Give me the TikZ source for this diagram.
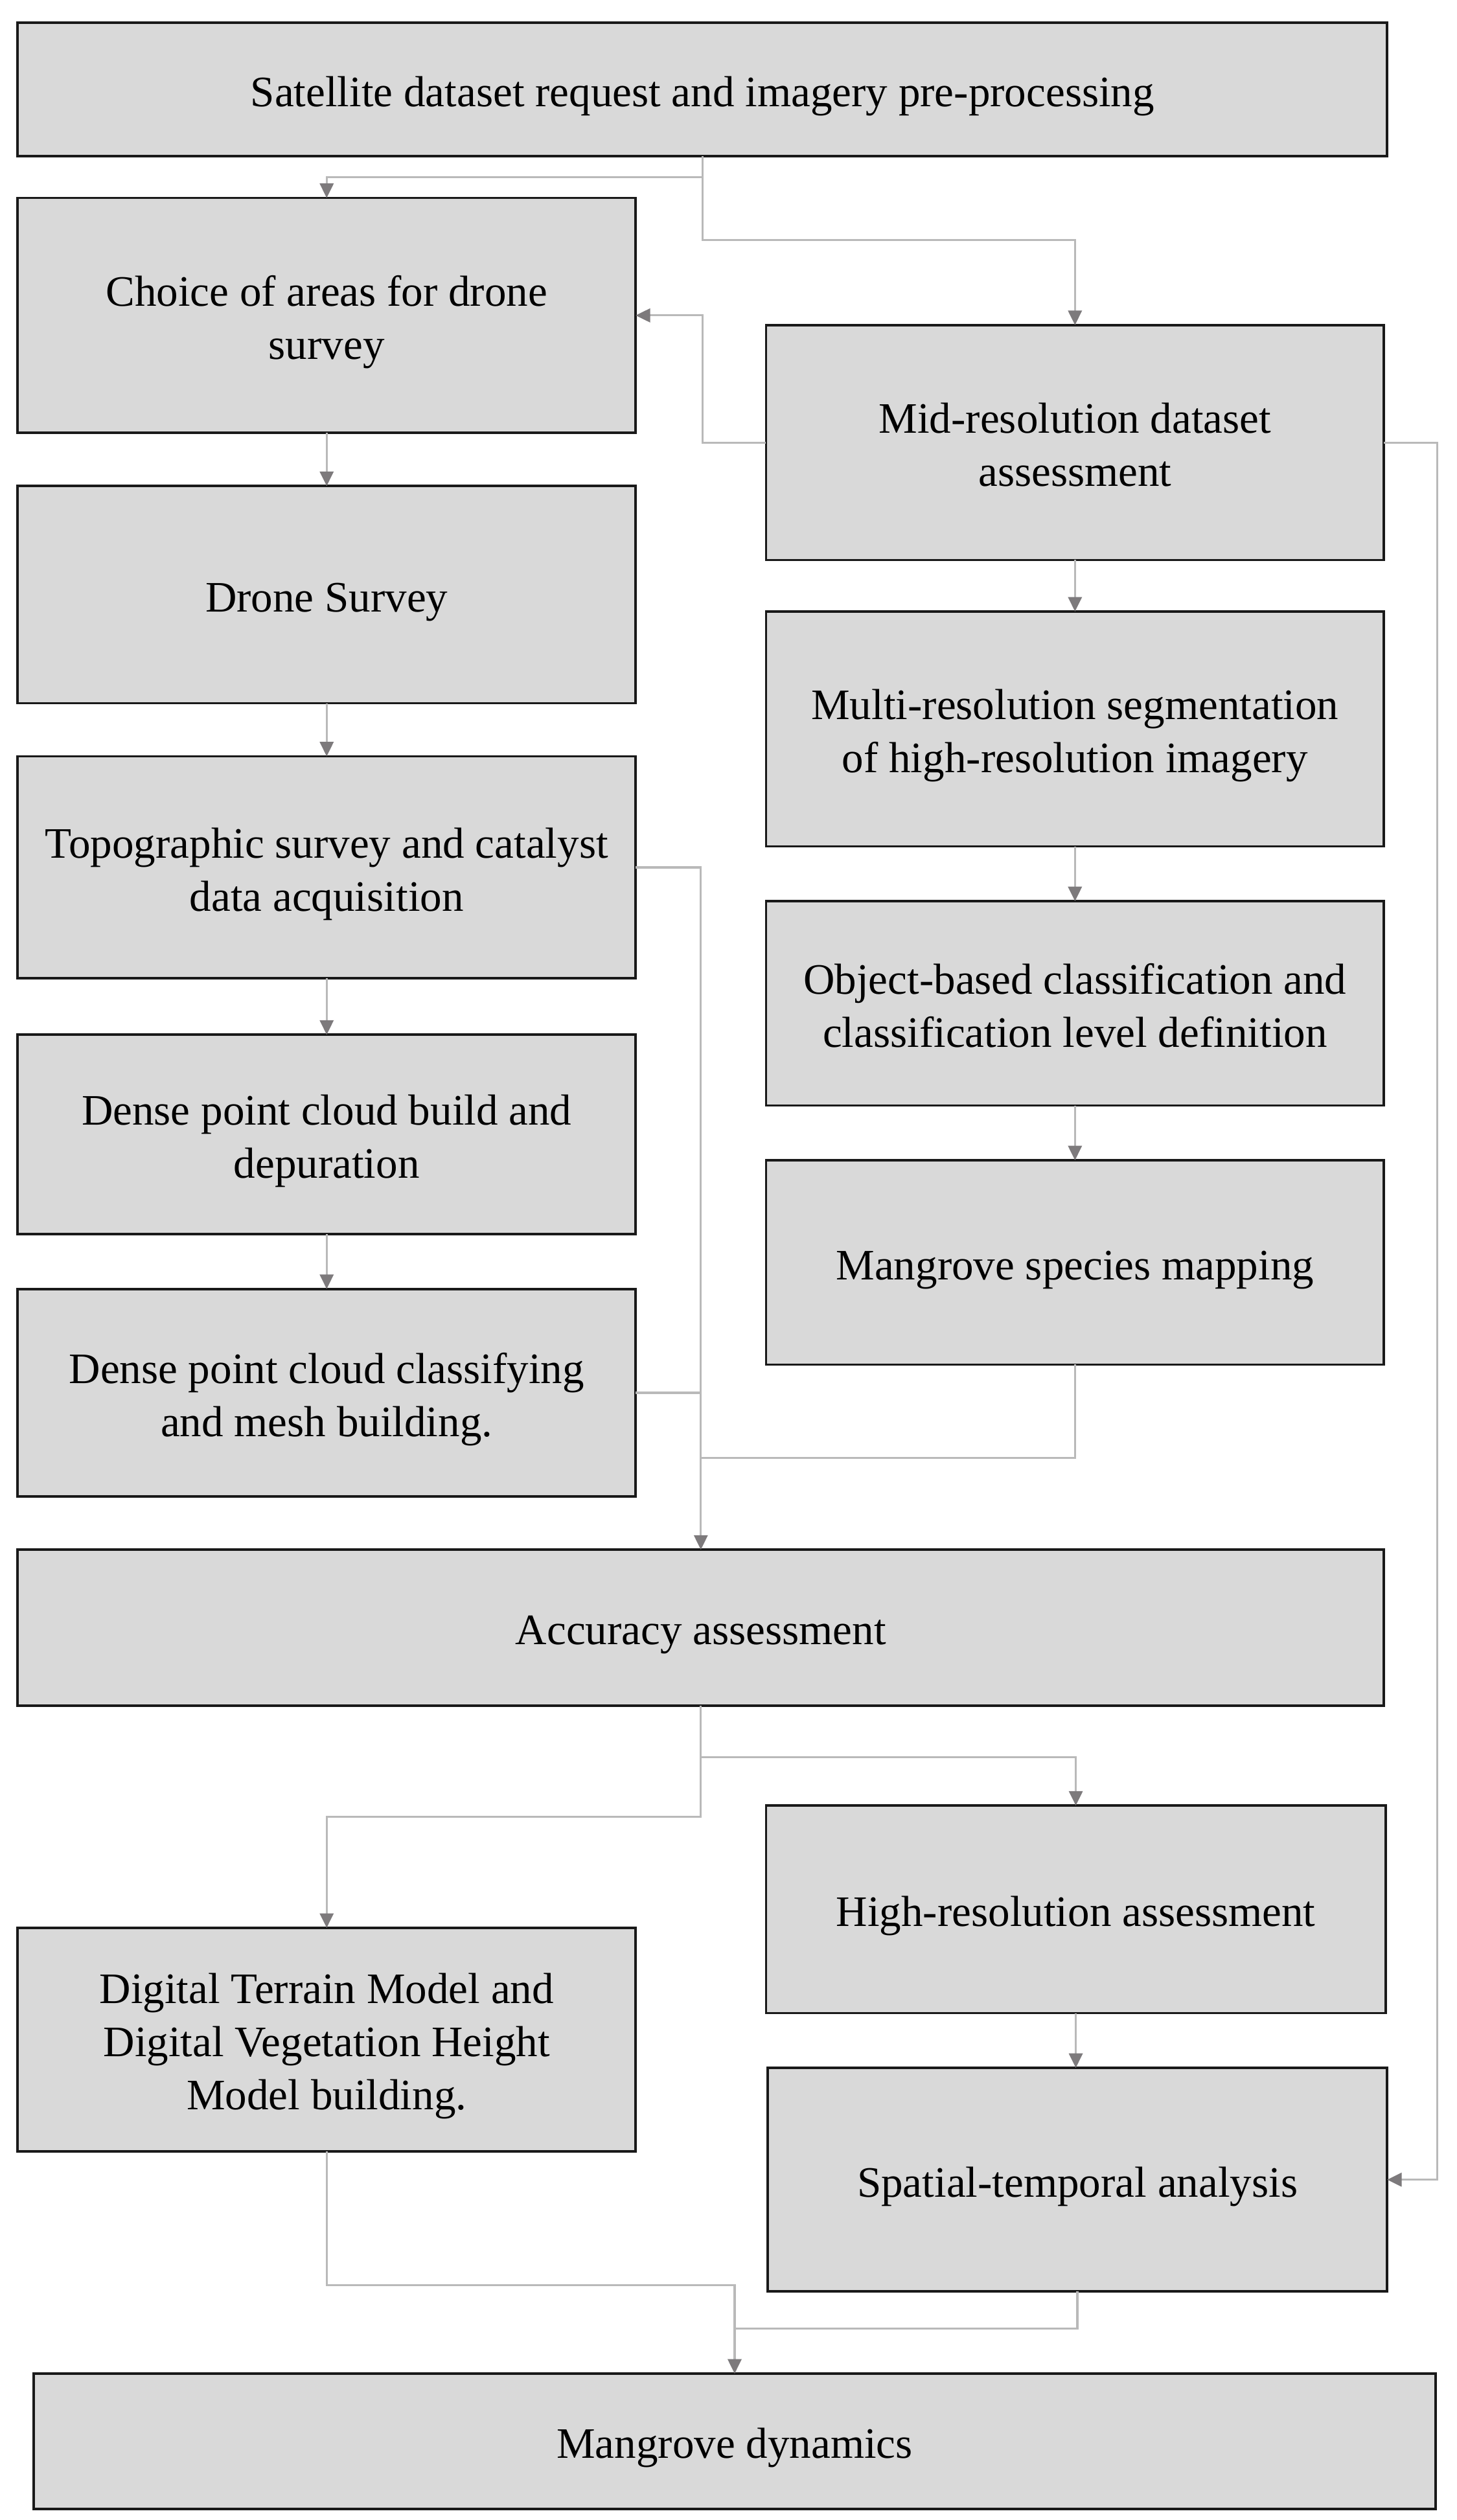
\documentclass[tikz,border=0pt]{standalone}
\usepackage{fontspec}
\setmainfont{Liberation Serif}
\usetikzlibrary{positioning, arrows.meta}

\definecolor{boxfill}{RGB}{217,217,217}
\definecolor{linegray}{RGB}{185,185,185}
\definecolor{tipgray}{RGB}{125,122,124}

% text block of a box, sitting a little low as in the figure
\newcommand{\stagetext}[1]{\raisebox{0pt}[\dimexpr\height+8pt\relax][\depth]{\begin{tabular}{@{}c@{}}#1\end{tabular}}}

\tikzset{
    stage/.style={draw=black!90, line width=1.5pt, fill=boxfill, inner sep=0pt, outer sep=0pt,
        font=\fontsize{27}{33}\selectfont},
    link/.style={draw=linegray, line width=1.3pt, -{Triangle[length=9pt,width=8.5pt,color=tipgray]}},
    joint/.style={draw=linegray, line width=1.3pt}
}

\begin{document}
\begin{tikzpicture}[x=1pt, y=-1pt]
    \useasboundingbox (0,0) rectangle (905,1566);
    % boxes
    \node[stage, minimum width=851, minimum height=83] (Sat) at (436.5,55.5) {\stagetext{Satellite dataset request and imagery pre-processing}};
    \node[stage, minimum width=384, minimum height=146] (Choice) at (203,196) {\stagetext{Choice of areas for drone\\survey}};
    \node[stage, minimum width=384, minimum height=146] (MidRes) at (668,275) {\stagetext{Mid-resolution dataset\\assessment}};
    \node[stage, minimum width=384, minimum height=135] (Drone) at (203,369.5) {\stagetext{Drone Survey}};
    \node[stage, minimum width=384, minimum height=146] (MultiRes) at (668,453) {\stagetext{Multi-resolution segmentation\\of high-resolution imagery}};
    \node[stage, minimum width=384, minimum height=138] (Topo) at (203,539) {\stagetext{Topographic survey and catalyst\\data acquisition}};
    \node[stage, minimum width=384, minimum height=127] (ObjClass) at (668,623.5) {\stagetext{Object-based classification and\\classification level definition}};
    \node[stage, minimum width=384, minimum height=124] (DenseBuild) at (203,705) {\stagetext{Dense point cloud build and\\depuration}};
    \node[stage, minimum width=384, minimum height=127] (Species) at (668,784.5) {\stagetext{Mangrove species mapping}};
    \node[stage, minimum width=384, minimum height=129] (DenseClass) at (203,865.5) {\stagetext{Dense point cloud classifying\\and mesh building.}};
    \node[stage, minimum width=849, minimum height=97] (Accuracy) at (435.5,1011.5) {\stagetext{Accuracy assessment}};
    \node[stage, minimum width=385, minimum height=129] (HighRes) at (668.5,1186.5) {\stagetext{High-resolution assessment}};
    \node[stage, minimum width=384, minimum height=139] (DTM) at (203,1267.5) {\stagetext{Digital Terrain Model and\\Digital Vegetation Height\\Model building.}};
    \node[stage, minimum width=385, minimum height=139] (Spatial) at (669.5,1354.5) {\stagetext{Spatial-temporal analysis}};
    \node[stage, minimum width=871, minimum height=84] (Dynamics) at (456.5,1517) {\stagetext{Mangrove dynamics}};

    % bend levels
    \coordinate (s1) at (0,110);
    \coordinate (s2) at (0,149);
    \coordinate (rr) at (893,0);
    \coordinate (m1) at (0,906);
    \coordinate (a1) at (0,1092);
    \coordinate (a2) at (0,1129);
    \coordinate (d1) at (0,1420);
    \coordinate (d2) at (0,1447);

    % connectors
    \draw[link] (Sat.south) |- (Choice.north |- s1) -- (Choice.north);
    \draw[link] (Sat.south) |- (MidRes.north |- s2) -- (MidRes.north);
    \draw[link] (MidRes.west) -- (MidRes.west -| Sat.south) |- (Choice.east);
    \draw[link] (MidRes.east) -- (MidRes.east -| rr) |- (Spatial.east);
    \foreach \a/\b in {Choice/Drone, Drone/Topo, Topo/DenseBuild, DenseBuild/DenseClass,
        MidRes/MultiRes, MultiRes/ObjClass, ObjClass/Species, HighRes/Spatial}
        \draw[link] (\a.south) -- (\a.south |- \b.north);
    \draw[link] (Topo.east) -| (Accuracy.north);
    \draw[joint] (DenseClass.east) -- (DenseClass.east -| Accuracy.north);
    \draw[joint] (Species.south) |- (Accuracy.north |- m1);
    \draw[link] (Accuracy.south) |- (HighRes.north |- a1) -- (HighRes.north);
    \draw[link] (Accuracy.south) |- (DTM.north |- a2) -- (DTM.north);
    \draw[link] (DTM.south) |- (Dynamics.north |- d1) -- (Dynamics.north);
    \draw[joint] (Spatial.south) |- (Dynamics.north |- d2);
\end{tikzpicture}
\end{document}
